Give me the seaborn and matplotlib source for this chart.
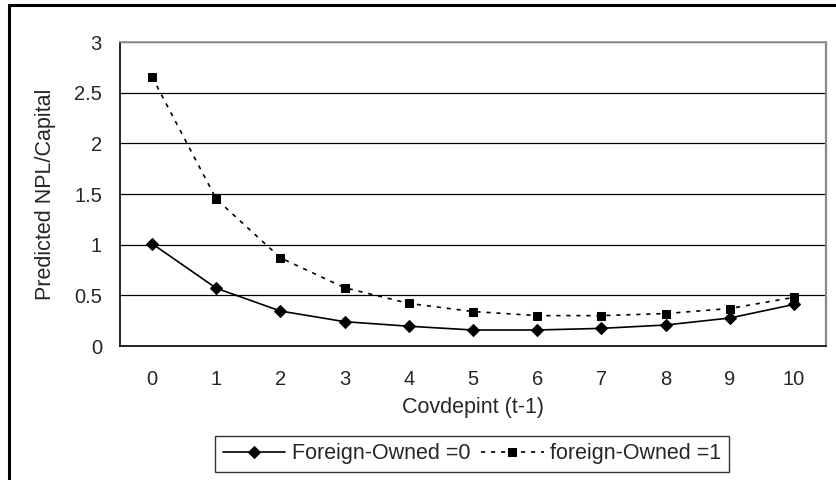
import matplotlib
matplotlib.use("Agg")
import matplotlib.pyplot as plt
import seaborn as sns
import pandas as pd
from matplotlib.patches import Rectangle

# values
covdepint = [0, 1, 2, 3, 4, 5, 6, 7, 8, 9, 10]
foreign_0 = [1.01, 0.57, 0.345, 0.24, 0.195, 0.158, 0.158, 0.174, 0.207, 0.276, 0.41]
foreign_1 = [2.655, 1.45, 0.87, 0.575, 0.42, 0.34, 0.30, 0.30, 0.32, 0.37, 0.48]
labels = ["Foreign-Owned =0", "foreign-Owned =1"]

df = pd.DataFrame({"x": covdepint, "f0": foreign_0, "f1": foreign_1})

sns.set_style("white")
plt.rcParams["font.family"] = ["Liberation Sans", "DejaVu Sans"]

fig = plt.figure(figsize=(8.36, 4.8), dpi=100)
ax = fig.add_axes([120 / 836, 1 - 346 / 480, (826 - 120) / 836, (346 - 42) / 480])

sns.lineplot(data=df, x="x", y="f0", ax=ax, color="black", lw=1.2,
             marker="D", markersize=6.2, markeredgecolor="black", label=labels[0])
sns.lineplot(data=df, x="x", y="f1", ax=ax, color="black", lw=1.2,
             linestyle=(0, (2.5, 3.5)), marker="s", markersize=5.5,
             markeredgecolor="black", label=labels[1])

ax.set_xlim(-0.5, 10.5)
ax.set_ylim(0, 3)
ax.set_yticks([0, 0.5, 1, 1.5, 2, 2.5, 3])
ax.set_yticklabels(["0", "0.5", "1", "1.5", "2", "2.5", "3"])
ax.set_xticks(covdepint)
ax.set_xticklabels([str(v) for v in covdepint])
ax.set_xticks([v - 0.5 for v in covdepint] + [10.5], minor=True)
ax.tick_params(axis="x", which="major", length=0, pad=17, labelsize=14.5)
ax.tick_params(axis="x", which="minor", length=5, width=1, color="black", direction="out")
ax.tick_params(axis="y", length=5, width=1, color="black", direction="out", labelsize=14.5, pad=8)

ax.yaxis.grid(True, color="black", lw=0.9)
ax.xaxis.grid(False)
for s in ["left", "bottom"]:
    ax.spines[s].set_color("black")
    ax.spines[s].set_linewidth(1.2)
ax.spines["top"].set_color("#999999")
ax.spines["top"].set_linewidth(1.2)
ax.spines["right"].set_color("#888888")
ax.spines["right"].set_linewidth(1.6)

ax.set_xlabel("Covdepint (t-1)", fontsize=15.5, va="center")
ax.xaxis.set_label_coords(0.5, (346 - 408) / 304)
ax.set_ylabel("Predicted NPL/Capital", fontsize=15.5, va="center", ha="center")
ax.yaxis.set_label_coords((46 - 120) / 706, 0.5)

leg = ax.legend(loc="center", bbox_to_anchor=(472 / 836, 1 - 454 / 480),
                bbox_transform=fig.transFigure, ncol=2,
                frameon=True, fancybox=False, fontsize=15.5, handlelength=2.9,
                handletextpad=0.3, columnspacing=0.5, borderpad=0.35)
leg.get_frame().set_edgecolor("black")
leg.get_frame().set_linewidth(1.0)

# outer chart border (left/top visible, rest cut off)
fig.patches.append(Rectangle((9 / 836, -0.1), 1.2, 1 - 5 / 480 + 0.1,
                             transform=fig.transFigure, fill=False,
                             edgecolor="black", lw=2.2, clip_on=False))

fig.savefig("out.png", dpi=100)
